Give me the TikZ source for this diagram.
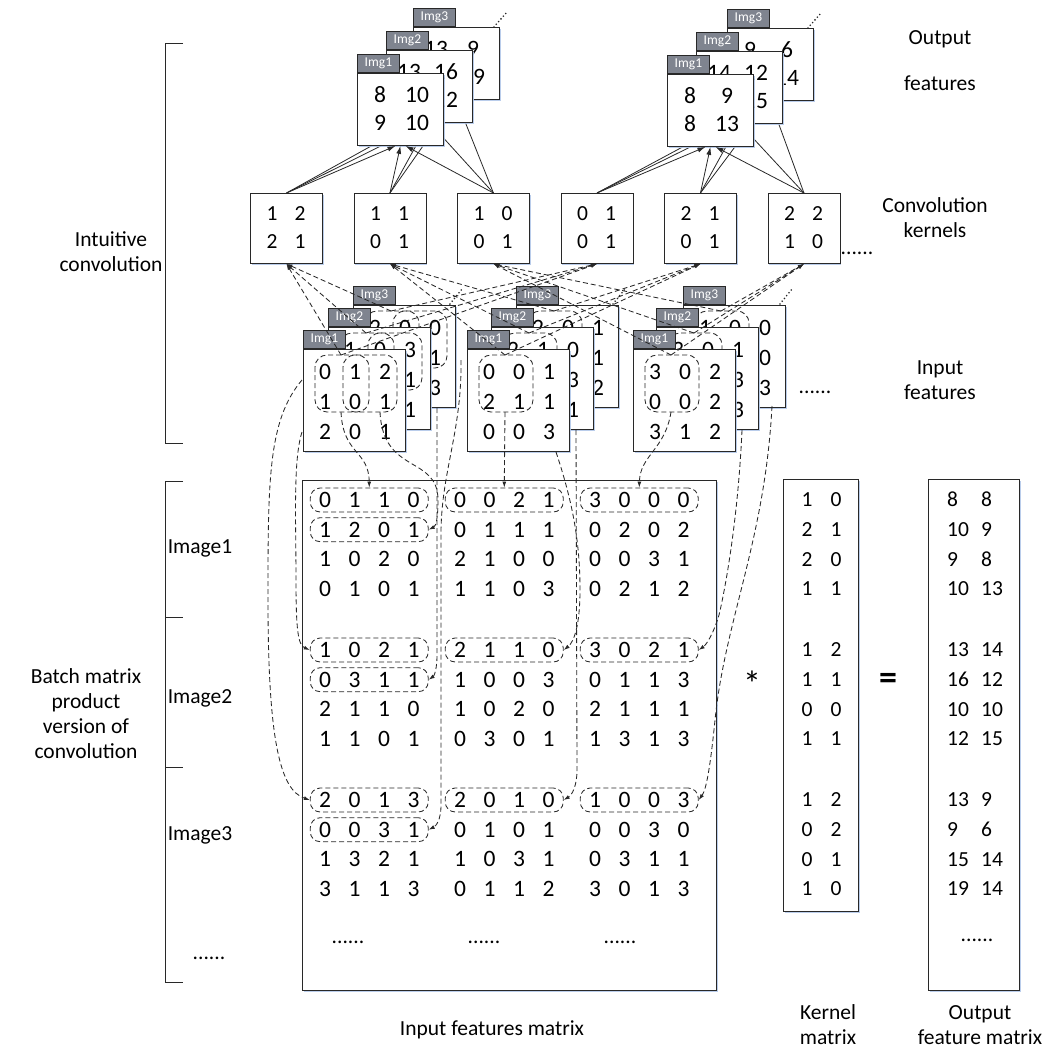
\documentclass[tikz,border=0pt]{standalone}
\usepackage{fontspec}
\setmainfont{Carlito}
\usetikzlibrary{arrows.meta,calc,shadows}
\definecolor{tabgray}{RGB}{127,132,143}
\definecolor{edge}{RGB}{40,40,40}
\definecolor{shblue}{RGB}{178,200,233}
\tikzset{
  shad/.style={drop shadow={shadow xshift=1.4pt,shadow yshift=-1.6pt,fill=shblue,opacity=0.9}},
  panel/.style={draw=edge,fill=white,line width=0.9pt,inner sep=0pt,anchor=north west,shad},
  tabbox/.style={draw=edge,fill=tabgray,line width=0.8pt,inner sep=0pt,anchor=south west,minimum width=42pt,minimum height=18pt,text=white,font=\fontsize{13.5}{13.5}\selectfont},
  bigdig/.style={inner sep=0pt,text height=14.8pt,text depth=0pt,font=\fontsize{23.5}{23.5}\selectfont},
  mdig/.style={inner sep=0pt,text height=14.8pt,text depth=0pt,font=\fontsize{23.5}{23.5}\selectfont},
  kdig/.style={inner sep=0pt,text height=13.5pt,text depth=0pt,font=\fontsize{21.5}{21.5}\selectfont},
  lab/.style={align=center,inner sep=0pt,font=\fontsize{21.5}{25}\selectfont},
  dsh/.style={dash pattern=on 5pt off 3pt},
  patchbox/.style={draw=edge,dsh,rounded corners=12pt,line width=0.85pt},
  ovalbox/.style={draw=edge,dsh,rounded corners=10pt,line width=0.85pt,minimum width=118pt,minimum height=24pt,inner sep=0pt},
  dl/.style={draw=edge,dsh,line width=0.85pt,-{Latex[length=6pt,width=4pt]}},
  sl/.style={draw=edge,line width=0.8pt,-{Latex[length=8pt,width=5pt]}},
  brk/.style={draw=edge,line width=1pt},
  dotline/.style={draw=edge,line width=1.8pt,line cap=round,dash pattern=on 0pt off 3.6pt},
}
\newcommand\inbox[7]{%
  \node[panel,minimum width=102pt,minimum height=102pt] (#1) at (#2,#3) {};
  \node[tabbox] (#1t) at (#1.north west) {#4};
  \foreach \a/\b/\c [count=\i] in {#5,#6,#7}{
    \node[bigdig] (#1d\i-a) at ($(#1.north west)+(22,{23+30*(\i-1)})$) {\a};
    \node[bigdig] (#1d\i-b) at ($(#1.north west)+(52,{23+30*(\i-1)})$) {\b};
    \node[bigdig] (#1d\i-c) at ($(#1.north west)+(82,{23+30*(\i-1)})$) {\c};
  }
}
\newcommand\patchat[2]{\draw[patchbox] ($(#1.north west)+(#2,6)$) rectangle ($(#1.north west)+(#2+54,63)$);}
\newcommand\outbox[8]{%
  \node[panel,minimum width=86pt,minimum height=72pt] (#1) at (#2,#3) {};
  \node[tabbox] (#1t) at (#1.north west) {#4};
  \node[bigdig] (#1a) at ($(#1.north west)+(23,22)$) {#5};
  \node[bigdig] (#1b) at ($(#1.north west)+(60,22)$) {#6};
  \node[bigdig] (#1c) at ($(#1.north west)+(23,50)$) {#7};
  \node[bigdig] (#1d) at ($(#1.north west)+(60,50)$) {#8};
}
\newcommand\kbox[6]{%
  \node[panel,minimum width=72pt,minimum height=70pt] (#1) at (#2,193) {};
  \node[kdig] (#1a) at ($(#1.north west)+(22,21)$) {#3};
  \node[kdig] (#1b) at ($(#1.north west)+(50,21)$) {#4};
  \node[kdig] (#1c) at ($(#1.north west)+(22,49)$) {#5};
  \node[kdig] (#1d) at ($(#1.north west)+(50,49)$) {#6};
}
\newcommand\mrow[7]{%
  \pgfmathsetmacro\mx{325+135*(#2-1)}%
  \pgfmathsetmacro\my{500+150*(#1-1)+29.7*(#3-1)}%
  \node[mdig] (m#1#2#3a) at (\mx,\my) {#4};
  \node[mdig] (m#1#2#3b) at (\mx+29.5,\my) {#5};
  \node[mdig] (m#1#2#3c) at (\mx+59,\my) {#6};
  \node[mdig] (m#1#2#3d) at (\mx+88.5,\my) {#7};
}
\newcommand\ovalat[3]{%
  \pgfmathsetmacro\mx{369.25+135*(#2-1)}%
  \pgfmathsetmacro\my{500+150*(#1-1)+29.7*(#3-1)}%
  \node[ovalbox] (ov#1#2#3) at (\mx,\my) {};
}
\begin{document}
\begin{tikzpicture}[x=1pt,y=-1pt]
\useasboundingbox (0,0) rectangle (1057,1050);
% brackets
\draw[brk] (183,43) -- (165,43) -- (165,443) -- (183,443);
\draw[brk] (183,481) -- (165,481) -- (165,982) -- (183,982);
\draw[brk] (165,617) -- (183,617);
\draw[brk] (165,767) -- (183,767);
% left labels
\node[lab] (lIC) at (111,252) {Intuitive\\convolution};
\node[lab] (lBM) at (86,714) {Batch matrix\\product\\version of\\convolution};
\node[lab] (lI1) at (200,548) {Image1};
\node[lab] (lI2) at (200,698) {Image2};
\node[lab] (lI3) at (200,835) {Image3};
\node[lab] (lI4) at (209,958) {......};
% right labels
\node[lab] (lOF) at (940,61) {Output\\[21pt]features};
\node[lab] (lCK) at (935,218) {Convolution\\kernels};
\node[lab] (lIF) at (940,380) {Input\\features};
\node[lab] (lKM) at (828,1025) {Kernel\\matrix};
\node[lab] (lOM) at (980,1025) {Output\\feature matrix};
\node[lab] (lIM) at (492,1030) {Input features matrix};
% kernels
\kbox{k1}{250}{1}{2}{2}{1}
\kbox{k2}{353.5}{1}{1}{0}{1}
\kbox{k3}{457}{1}{0}{0}{1}
\kbox{k4}{560.5}{0}{1}{0}{1}
\kbox{k5}{664}{2}{1}{0}{1}
\kbox{k6}{767.5}{2}{2}{1}{0}
\node[lab] (kdots) at (857,253) {......};
% output stacks (left)
\coordinate (pL3) at (456,99);
\coordinate (pL2) at (429,122);
\draw[sl] (k1.north) -- (pL3);
\draw[sl] (k2.north) -- (pL3);
\draw[sl] (k3.north) -- (pL3);
\outbox{oL3}{413}{27}{Img3}{13}{9}{15}{19}
\draw[dotline] ($(oL3.north east)+(-6,0)$) -- ++(14,-16);
\draw[sl] (k1.north) -- (pL2);
\draw[sl] (k2.north) -- (pL2);
\draw[sl] (k3.north) -- (pL2);
\outbox{oL2}{386}{50}{Img2}{13}{16}{10}{12}
\outbox{oL1}{357}{73}{Img1}{8}{10}{9}{10}
\draw[sl] (k1.north) -- ($(oL1.south)+(-5,0)$);
\draw[sl] (k2.north) -- (oL1.south);
\draw[sl] (k3.north) -- ($(oL1.south)+(5,0)$);
% output stacks (right)
\coordinate (pR3) at (770,100);
\coordinate (pR2) at (739,123);
\draw[sl] (k4.north) -- (pR3);
\draw[sl] (k5.north) -- (pR3);
\draw[sl] (k6.north) -- (pR3);
\outbox{oR3}{727}{28}{Img3}{9}{6}{14}{14}
\draw[dotline] ($(oR3.north east)+(-6,0)$) -- ++(14,-16);
\draw[sl] (k4.north) -- (pR2);
\draw[sl] (k5.north) -- (pR2);
\draw[sl] (k6.north) -- (pR2);
\outbox{oR2}{696}{51}{Img2}{14}{12}{10}{15}
\outbox{oR1}{667}{74}{Img1}{8}{9}{8}{13}
\draw[sl] (k4.north) -- ($(oR1.south)+(-5,0)$);
\draw[sl] (k5.north) -- (oR1.south);
\draw[sl] (k6.north) -- ($(oR1.south)+(5,0)$);
% input stacks
\inbox{iL3}{353}{305}{Img3}{2/0/0}{1/3/1}{2/1/3}
\patchat{iL3}{12}\patchat{iL3}{40}
\draw[dotline] ($(iL3.north east)+(-6,-1)$) -- ++(13,-16);
\inbox{iL2}{328}{327}{Img2}{1/0/3}{2/1/1}{1/0/1}
\patchat{iL2}{12}\patchat{iL2}{40}
\inbox{iL1}{303}{349}{Img1}{0/1/2}{1/0/1}{2/0/1}
\patchat{iL1}{12}\patchat{iL1}{40}
\inbox{iM3}{516}{305}{Img3}{2/0/1}{1/0/1}{3/1/2}
\patchat{iM3}{12}
\draw[dotline] ($(iM3.north east)+(-6,-1)$) -- ++(13,-16);
\inbox{iM2}{491}{327}{Img2}{2/1/0}{1/0/3}{2/0/1}
\patchat{iM2}{12}
\inbox{iM1}{467}{349}{Img1}{0/0/1}{2/1/1}{0/0/3}
\patchat{iM1}{12}
\inbox{iR3}{683}{305}{Img3}{1/0/0}{0/3/0}{1/1/3}
\patchat{iR3}{12}
\draw[dotline] ($(iR3.north east)+(-6,-1)$) -- ++(13,-16);
\inbox{iR2}{656}{327}{Img2}{3/0/1}{2/1/3}{1/1/3}
\patchat{iR2}{12}
\inbox{iR1}{633}{349}{Img1}{3/0/2}{0/0/2}{3/1/2}
\patchat{iR1}{12}
\node[lab] (idots) at (815,392) {......};
% input features -> kernels
\foreach \s in {iL1,iL2,iL3}{
  \draw[dl] ($(\s.north west)+(38,6)$) -- (k1.south);
  \draw[dl] ($(\s.north west)+(38,6)$) -- (k4.south);
}
\foreach \s in {iM1,iM2,iM3}{
  \draw[dl] ($(\s.north west)+(38,6)$) -- (k2.south);
  \draw[dl] ($(\s.north west)+(38,6)$) -- (k5.south);
}
\foreach \s in {iR1,iR2,iR3}{
  \draw[dl] ($(\s.north west)+(38,6)$) -- (k3.south);
  \draw[dl] ($(\s.north west)+(38,6)$) -- (k6.south);
}
% input features matrix
\node[panel,minimum width=414pt,minimum height=510pt] (M) at (302,480) {};
\mrow{1}{1}{1}{0}{1}{1}{0}\mrow{1}{1}{2}{1}{2}{0}{1}\mrow{1}{1}{3}{1}{0}{2}{0}\mrow{1}{1}{4}{0}{1}{0}{1}
\mrow{1}{2}{1}{0}{0}{2}{1}\mrow{1}{2}{2}{0}{1}{1}{1}\mrow{1}{2}{3}{2}{1}{0}{0}\mrow{1}{2}{4}{1}{1}{0}{3}
\mrow{1}{3}{1}{3}{0}{0}{0}\mrow{1}{3}{2}{0}{2}{0}{2}\mrow{1}{3}{3}{0}{0}{3}{1}\mrow{1}{3}{4}{0}{2}{1}{2}
\mrow{2}{1}{1}{1}{0}{2}{1}\mrow{2}{1}{2}{0}{3}{1}{1}\mrow{2}{1}{3}{2}{1}{1}{0}\mrow{2}{1}{4}{1}{1}{0}{1}
\mrow{2}{2}{1}{2}{1}{1}{0}\mrow{2}{2}{2}{1}{0}{0}{3}\mrow{2}{2}{3}{1}{0}{2}{0}\mrow{2}{2}{4}{0}{3}{0}{1}
\mrow{2}{3}{1}{3}{0}{2}{1}\mrow{2}{3}{2}{0}{1}{1}{3}\mrow{2}{3}{3}{2}{1}{1}{1}\mrow{2}{3}{4}{1}{3}{1}{3}
\mrow{3}{1}{1}{2}{0}{1}{3}\mrow{3}{1}{2}{0}{0}{3}{1}\mrow{3}{1}{3}{1}{3}{2}{1}\mrow{3}{1}{4}{3}{1}{1}{3}
\mrow{3}{2}{1}{2}{0}{1}{0}\mrow{3}{2}{2}{0}{1}{0}{1}\mrow{3}{2}{3}{1}{0}{3}{1}\mrow{3}{2}{4}{0}{1}{1}{2}
\mrow{3}{3}{1}{1}{0}{0}{3}\mrow{3}{3}{2}{0}{0}{3}{0}\mrow{3}{3}{3}{0}{3}{1}{1}\mrow{3}{3}{4}{3}{0}{1}{3}
\foreach \g in {1,2,3}{
  \ovalat{\g}{1}{1}\ovalat{\g}{1}{2}\ovalat{\g}{2}{1}\ovalat{\g}{3}{1}
}
\node[lab] (md1) at (348,942) {......};
\node[lab] (md2) at (484,942) {......};
\node[lab] (md3) at (620,942) {......};
% curved dashed arrows: input features -> matrix rows
\draw[dl] (341,412) .. controls (343,455) and (369,450) .. (ov111.north);
\draw[dl] (380,412) .. controls (383,475) and (438,455) .. (438,500) .. controls (438,518) and (436,526) .. (ov112.east);
\draw[dl] (437,408) -- (437,655) .. controls (437,670) and (434,676) .. (ov212.east);
\draw[dl] (461,360) .. controls (462,430) and (442,470) .. (441,530) -- (441,805) .. controls (441,820) and (436,826) .. (ov312.east);
\draw[dl] (302,380) .. controls (268,420) and (268,480) .. (268,600) .. controls (268,740) and (280,790) .. (ov311.west);
\draw[dl] (302,432) .. controls (293,460) and (296,520) .. (296,580) .. controls (296,630) and (298,645) .. (ov211.west);
\draw[dl] (505,412) -- (ov121.north);
\draw[dl] (556,452) .. controls (572,500) and (580,540) .. (580,590) .. controls (580,625) and (574,642) .. (ov221.east);
\draw[dl] (576,430) -- (577,770) .. controls (577,786) and (572,795) .. (ov321.east);
\draw[dl] (671,412) .. controls (665,450) and (640,455) .. (ov131.north);
\draw[dl] (742,430) .. controls (738,520) and (725,590) .. (719,615) .. controls (713,635) and (706,645) .. (ov231.east);
\draw[dl] (772,406) .. controls (765,540) and (725,620) .. (715,720) .. controls (710,770) and (706,790) .. (ov331.east);
% operators
\node[inner sep=0pt,font=\fontsize{36}{36}\selectfont] (star) at (752,684) {*};
\node[inner sep=0pt,font=\fontsize{36}{36}\selectfont\bfseries] (eq) at (888,681) {=};
% kernel matrix
\node[panel,minimum width=75pt,minimum height=432pt] (KM) at (783,479) {};
\foreach \g/\r/\a/\b in {1/1/1/0,1/2/2/1,1/3/2/0,1/4/1/1,2/1/1/2,2/2/1/1,2/3/0/0,2/4/1/1,3/1/1/2,3/2/0/2,3/3/0/1,3/4/1/0}{
  \pgfmathsetmacro\yy{500+150*(\g-1)+29.7*(\r-1)}
  \node[kdig] (km\g\r a) at (807,\yy) {\a};
  \node[kdig] (km\g\r b) at (836,\yy) {\b};
}
% output feature matrix
\node[panel,minimum width=91pt,minimum height=511pt] (OM) at (928,479) {};
\foreach \g/\r/\a/\b in {1/1/8/8,1/2/10/9,1/3/9/8,1/4/10/13,2/1/13/14,2/2/16/12,2/3/10/10,2/4/12/15,3/1/13/9,3/2/9/6,3/3/15/14,3/4/19/14}{
  \pgfmathsetmacro\yy{500+150*(\g-1)+29.7*(\r-1)}
  \node[kdig,anchor=west] (om\g\r a) at (947,\yy) {\a};
  \node[kdig,anchor=west] (om\g\r b) at (981,\yy) {\b};
}
\node[lab] (odots) at (977,940) {......};
\end{tikzpicture}
\end{document}
